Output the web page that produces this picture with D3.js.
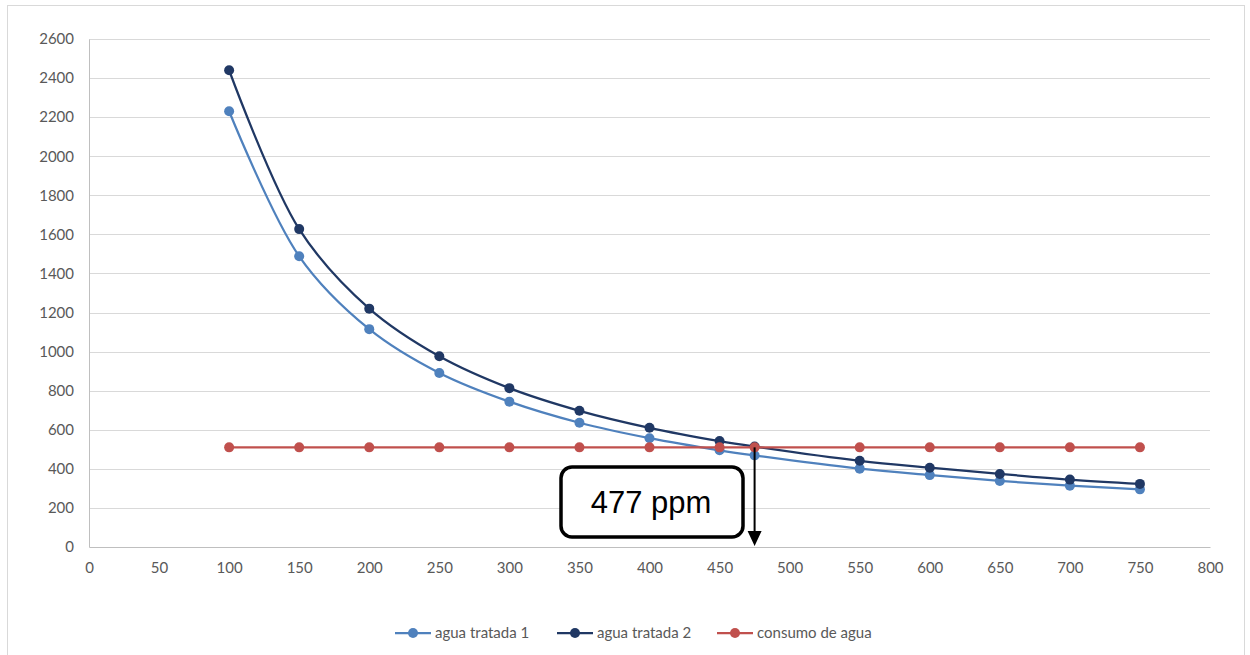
<!DOCTYPE html>
<html><head><meta charset="utf-8">
<script src="https://cdn.jsdelivr.net/npm/d3@7"></script>
<style>body{margin:0;background:#fff}svg{display:block}</style>
</head><body>
<svg id="c" width="1250" height="655"></svg>
<script>
const xValues = [100,150,200,250,300,350,400,450,475,550,600,650,700,750];
const aguaTratada1 = [2230,1488,1115,891,744,636,557,495,469,401,368,338,314,295];
const aguaTratada2 = [2440,1627,1220,976,813,697,610,542,514,441,406,374,345,323];
const consumoAgua = [510,510,510,510,510,510,510,510,510,510,510,510,510,510];
const seriesNames = ["agua tratada 1","agua tratada 2","consumo de agua"];
const seriesColors = ["#4f81bd","#203864","#c0504d"];
const yTicks = [0,200,400,600,800,1000,1200,1400,1600,1800,2000,2200,2400,2600];
const xTicks = [0,50,100,150,200,250,300,350,400,450,500,550,600,650,700,750,800];
const crossX = 475;
const annotationText = "477 ppm";

const svg = d3.select("#c");
const font = "Lato, 'Liberation Sans', sans-serif";
svg.append("rect").attr("x",7.5).attr("y",5.5).attr("width",1237).attr("height",660)
  .attr("fill","#fff").attr("stroke","#d9d9d9").attr("stroke-width",1);

const x = d3.scaleLinear().domain([0,800]).range([89,1210]);
const y = d3.scaleLinear().domain([0,2600]).range([547,39]);

// grid
svg.append("g").selectAll("line").data(yTicks.slice(1)).join("line")
  .attr("x1",x(0)).attr("x2",x(800)).attr("y1",d=>Math.round(y(d))+0.5).attr("y2",d=>Math.round(y(d))+0.5)
  .attr("stroke","#d9d9d9").attr("stroke-width",1);

// axes
const ya = svg.append("g").attr("transform",`translate(${x(0)},0)`)
  .call(d3.axisLeft(y).tickValues(yTicks).tickFormat(d3.format("d")).tickSize(0).tickPadding(15));
ya.select(".domain").attr("stroke","#bfbfbf");
const xa = svg.append("g").attr("transform",`translate(0,${y(0)})`)
  .call(d3.axisBottom(x).tickValues(xTicks).tickFormat(d3.format("d")).tickSize(0).tickPadding(15));
xa.select(".domain").attr("stroke","#bfbfbf");
svg.selectAll(".tick text").attr("font-family",font).attr("font-size",15).attr("fill","#595959");

const series = [aguaTratada1, aguaTratada2, consumoAgua];
const line = d3.line().x((d,i)=>x(xValues[i])).y(d=>y(d)).curve(d3.curveCatmullRom.alpha(0.5));
series.forEach((vals,si)=>{
  const g = svg.append("g");
  g.append("path").attr("d",line(vals)).attr("fill","none")
   .attr("stroke",seriesColors[si]).attr("stroke-width",2.25);
  g.selectAll("circle").data(vals).join("circle")
   .attr("cx",(d,i)=>x(xValues[i])).attr("cy",d=>y(d)).attr("r",5)
   .attr("fill",seriesColors[si]);
});

// annotation arrow
const ax = x(crossX);
svg.append("line").attr("x1",ax).attr("x2",ax).attr("y1",y(consumoAgua[8])).attr("y2",y(0)-14)
  .attr("stroke","#000").attr("stroke-width",2);
svg.append("path").attr("d",`M${ax-7},${y(0)-16} L${ax+7},${y(0)-16} L${ax},${y(0)-1} Z`).attr("fill","#000");
// annotation box
svg.append("rect").attr("x",561).attr("y",467).attr("width",182).attr("height",70).attr("rx",11)
  .attr("fill","#fff").attr("stroke","#000").attr("stroke-width",3.5);
svg.append("text").attr("x",651).attr("y",513).attr("text-anchor","middle")
  .attr("font-family","'Liberation Sans', Arial, sans-serif").attr("font-size",31).attr("fill","#000")
  .text(annotationText);

// legend
const legX = [395,557,717];
seriesNames.forEach((n,i)=>{
  const g = svg.append("g").attr("transform",`translate(${legX[i]},633)`);
  g.append("line").attr("x1",0).attr("x2",36).attr("stroke",seriesColors[i]).attr("stroke-width",2.25);
  g.append("circle").attr("cx",18).attr("r",5).attr("fill",seriesColors[i]);
  g.append("text").attr("x",40).attr("y",5).attr("font-family",font).attr("font-size",15)
   .attr("fill","#595959").text(n);
});
</script>
</body></html>
